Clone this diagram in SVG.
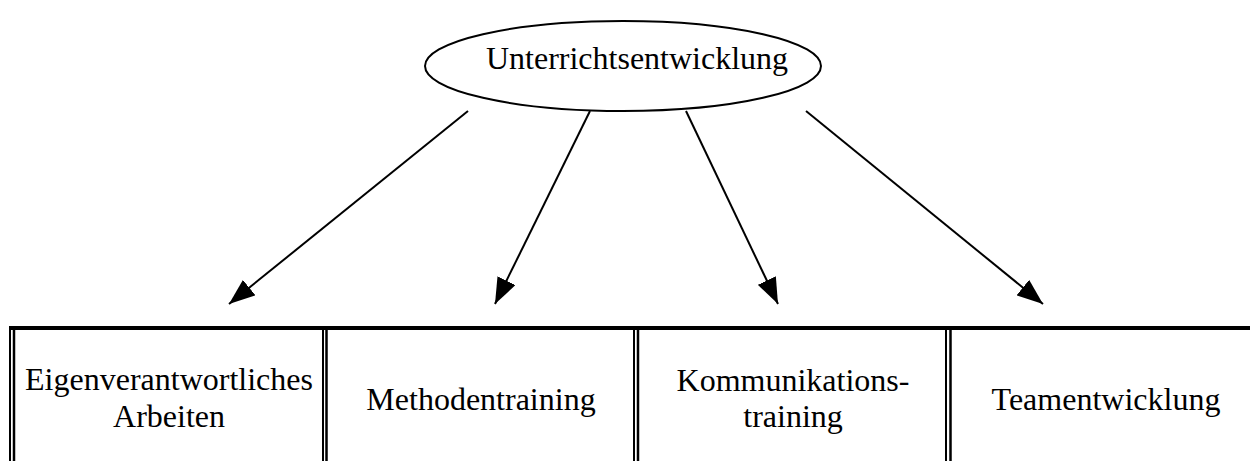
<svg xmlns="http://www.w3.org/2000/svg" width="1250" height="461" viewBox="0 0 1250 461">
<style>
.t{font-family:"Liberation Serif","Times New Roman",serif;font-size:32px;fill:#000;text-anchor:middle}
.c{stroke:#000;stroke-width:2;fill:none}
.b{stroke:#000;fill:none}
</style>
<defs>
<marker id="a" viewBox="0 0 26 20" refX="26" refY="10" markerWidth="26" markerHeight="20" markerUnits="userSpaceOnUse" orient="auto">
<path d="M0,0 L26,10 L0,20 Z" fill="#000"/>
</marker>
</defs>
<rect width="1250" height="461" fill="#fff"/>
<g id="root">
<ellipse cx="623" cy="66" rx="198" ry="45" fill="#fff" stroke="#000" stroke-width="2"/>
<text class="t" x="637" y="69">Unterrichtsentwicklung</text>
</g>
<g id="connectors">
<line class="c" x1="468" y1="111" x2="229" y2="304" marker-end="url(#a)"/>
<line class="c" x1="590" y1="111" x2="495" y2="304" marker-end="url(#a)"/>
<line class="c" x1="686" y1="111" x2="778" y2="304" marker-end="url(#a)"/>
<line class="c" x1="806" y1="111" x2="1043" y2="304" marker-end="url(#a)"/>
</g>
<g id="table">
<line class="b" x1="9" y1="328" x2="1250" y2="328" stroke-width="4"/>
<line class="b" x1="10" y1="326" x2="10" y2="461" stroke-width="2"/>
<line class="b" x1="14" y1="326" x2="14" y2="461" stroke-width="2.5"/>
<line class="b" x1="323" y1="326" x2="323" y2="461" stroke-width="2"/>
<line class="b" x1="326.5" y1="326" x2="326.5" y2="461" stroke-width="2.5"/>
<line class="b" x1="634" y1="326" x2="634" y2="461" stroke-width="2"/>
<line class="b" x1="638" y1="326" x2="638" y2="461" stroke-width="2.5"/>
<line class="b" x1="946" y1="326" x2="946" y2="461" stroke-width="2"/>
<line class="b" x1="950.5" y1="326" x2="950.5" y2="461" stroke-width="2.5"/>
</g>
<g id="n1">
<text class="t" x="169" y="390">Eigenverantwortliches</text>
<text class="t" x="169" y="427">Arbeiten</text>
</g>
<g id="n2">
<text class="t" x="481" y="410">Methodentraining</text>
</g>
<g id="n3">
<text class="t" x="793" y="391">Kommunikations-</text>
<text class="t" x="793" y="427">training</text>
</g>
<g id="n4">
<text class="t" x="1106" y="410">Teamentwicklung</text>
</g>
</svg>
